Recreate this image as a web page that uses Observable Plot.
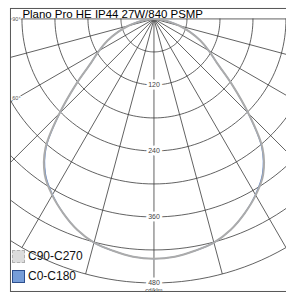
<!DOCTYPE html>
<html><head><meta charset="utf-8">
<script src="https://cdn.jsdelivr.net/npm/d3@7"></script>
<script src="https://cdn.jsdelivr.net/npm/@observablehq/plot@0.6"></script>
<style>
html,body{margin:0;padding:0;background:#fff;}
#wrap{position:relative;width:286px;height:294px;overflow:hidden;font-family:"Liberation Sans",Arial,sans-serif;}
#legend{position:absolute;left:12px;top:249px;}
.item{display:flex;align-items:center;height:14px;margin-bottom:6px;font-size:12px;color:#111;}
.sw{width:13px;height:13px;margin-right:3px;box-sizing:border-box;}
</style></head><body>
<div id="wrap"><div id="chart"></div><div id="legend"></div></div>
<script>
// ---- data ----
const title = "Plano Pro HE IP44 27W/840 PSMP";
const unitLabel = "cd/klm";
const seriesNames = ["C90-C270", "C0-C180"];
const seriesColors = ["#ababab", "#5b84cc"];
const gammaDeg = [0, 5, 10, 15, 20, 25, 30, 35, 40, 45, 50, 55, 60, 65, 70, 75, 80, 85, 90];
const c90c270 = [436, 434, 428, 421, 408, 390, 370, 346, 307, 243, 185, 140, 115, 93, 70, 48, 28, 12, 0];
const c0c180  = [436, 434, 428, 421, 408, 390, 369, 344, 305, 242, 185, 140, 115, 93, 70, 48, 28, 12, 0];
const ringValues = [60, 120, 180, 240, 300, 360, 420, 480];
const ringLabels = [120, 240, 360, 480];
const spokeAngles = [-90, -75, -60, -45, -30, -15, 0, 15, 30, 45, 60, 75, 90];
const angleLabels = [90, 60, 30];

const W = 287, H = 294;    // one extra px on the right: the box has no visible right edge
const k = 0.552;           // px per cd/klm
const cx = 154, cy = 18.5; // pole position in px
const rad = d => d * Math.PI / 180;
const rMax = d3.max(ringValues);

// curve points (symmetric planes: left half = C180/C270, right half = C0/C90)
function curve(vals, name) {
  const pts = [];
  for (let i = gammaDeg.length - 1; i >= 0; i--) pts.push({s: name, g: -gammaDeg[i], v: vals[i]});
  for (let i = 1; i < gammaDeg.length; i++) pts.push({s: name, g: gammaDeg[i], v: vals[i]});
  return pts.map(p => ({...p, x: p.v * Math.sin(rad(p.g)), y: p.v * Math.cos(rad(p.g))}));
}
const curves = [curve(c0c180, seriesNames[1]), curve(c90c270, seriesNames[0])];

const ringPts = ringValues.flatMap(r => d3.range(-90, 90.5, 2).map(a => ({r, x: r * Math.sin(rad(a)), y: r * Math.cos(rad(a))})));
const spokes = spokeAngles.map(a => ({a, x2: rMax * Math.sin(rad(a)), y2: rMax * Math.cos(rad(a))}));
const leftEdge = (cx - 16) / k;
const angLab = angleLabels.map(a => {
  const r = Math.min(rMax * 1.02, leftEdge / Math.sin(rad(a)));
  return {t: a + "°", x: -r * Math.sin(rad(a)), y: r * Math.cos(rad(a))};
});

const chart = Plot.plot({
  width: W, height: H,
  marginLeft: 10, marginTop: 8, marginRight: 0, marginBottom: 2,
  x: {domain: [-cx / k, (W - cx) / k], range: [0, W], axis: null},
  y: {domain: [-cy / k, (H - cy) / k], range: [0, H], axis: null},
  style: {fontFamily: "'Liberation Sans', Arial, sans-serif", background: "#fff"},
  marks: [
    Plot.line(ringPts, {x: "x", y: "y", z: "r", stroke: "#3a3a3a", strokeWidth: 0.8, clip: "frame"}),
    Plot.link(spokes, {x1: 0, y1: 0, x2: "x2", y2: "y2", stroke: "#3a3a3a", strokeWidth: 0.8, clip: "frame"}),
    Plot.line(curves[0], {x: "x", y: "y", stroke: seriesColors[1], strokeWidth: 1.2, curve: "catmull-rom", clip: "frame"}),
    Plot.line(curves[1], {x: "x", y: "y", stroke: seriesColors[0], strokeWidth: 2, curve: "catmull-rom", clip: "frame"}),
    Plot.text(ringLabels, {x: 0, y: d => d, text: d => String(d), fontSize: 7, fill: "#444", stroke: "white", strokeWidth: 5}),
    Plot.text([unitLabel], {x: 0, y: rMax, text: d => d, fontSize: 6, fill: "#444", dy: 7}),
    Plot.text(angLab, {x: "x", y: "y", text: "t", fontSize: 5.5, fill: "#555", stroke: "white", strokeWidth: 2}),
    Plot.text([title], {frameAnchor: "top-left", dx: 12, dy: 9.5, text: d => d, fontSize: 11.5, fill: "#000", textAnchor: "start", lineAnchor: "bottom"}),
    Plot.frame({stroke: "#555", strokeWidth: 1})
  ]
});
document.getElementById("chart").append(chart);

const legend = document.getElementById("legend");
const swStyles = [
  "background:#dcdcdc;border:1px dashed #b0b0b0;",
  "background:#769dd8;border:1px solid #2d4f8e;"
];
seriesNames.forEach((n, i) => {
  const it = document.createElement("div");
  it.className = "item";
  it.innerHTML = `<div class="sw" style="${swStyles[i]}"></div><span>${n}</span>`;
  legend.append(it);
});
</script>
</body></html>
